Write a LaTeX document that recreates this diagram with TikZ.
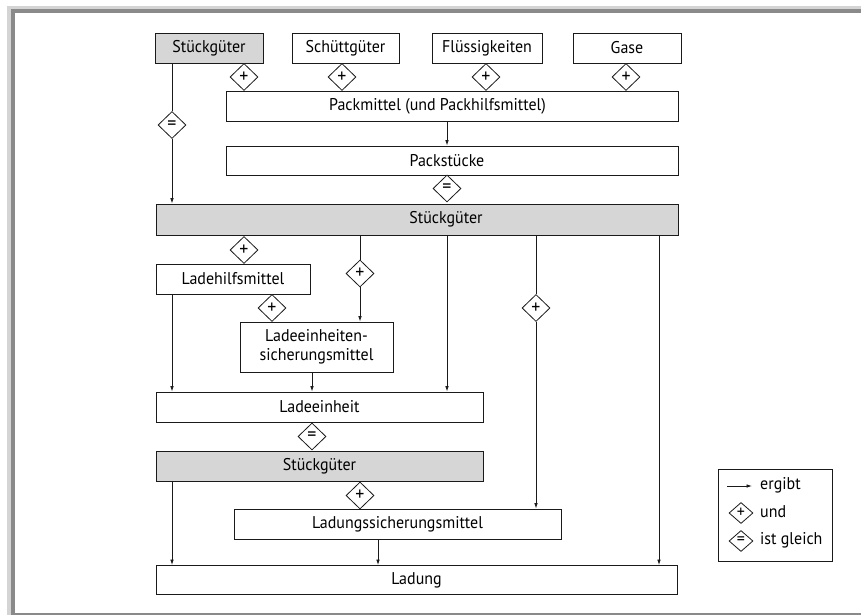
\documentclass[tikz,border=0pt]{standalone}
\usepackage{fontspec}
\setmainfont[FakeStretch=0.94]{PT Sans}
\usetikzlibrary{shapes.geometric,arrows.meta,calc}
\definecolor{boxgray}{HTML}{D6D6D6}
\definecolor{framedark}{HTML}{8A8A8A}
\definecolor{framelight}{HTML}{D4D4D4}
\definecolor{ink}{HTML}{1A1A1A}
\begin{document}
\begin{tikzpicture}[x=1pt,y=-1pt,
  box/.style={draw=ink, line width=0.9pt, inner sep=0pt, font=\fontsize{17}{19}\selectfont},
  gbox/.style={box, fill=boxgray},
  txt/.style={inner sep=0pt, font=\fontsize{17}{19}\selectfont},
  dia/.style={diamond, draw=ink, line width=0.8pt, fill=white, inner sep=0pt, minimum width=28pt, minimum height=27pt, font=\fontsize{19}{19}\selectfont},
  ldia/.style={dia, minimum width=24pt, minimum height=21pt, font=\fontsize{17}{17}\selectfont},
  con/.style={draw=ink, line width=0.8pt},
  arr/.style={con, -{Latex[length=5.5pt,width=3.6pt]}}]
\useasboundingbox (0,0) rectangle (861,615);
% frame
\fill[framelight] (7,6) rectangle (861,9.5);
\fill[framedark] (11,9.5) rectangle (861,12.7);
\fill[framelight] (7,6) rectangle (11,615);
\fill[framedark] (11,9.5) rectangle (15,615);
\fill[framedark] (11,613.3) rectangle (861,615);
% top row
\node[gbox, minimum width=108pt, minimum height=30pt] (s1) at (209,48) {Stückgüter};
\node[box, minimum width=107pt, minimum height=30pt] (sch) at (345.5,48) {Schüttgüter};
\node[box, minimum width=110pt, minimum height=30pt] (fl) at (487,48) {Flüssigkeiten};
\node[box, minimum width=108pt, minimum height=30pt] (ga) at (627,48) {Gase};
\node[box, minimum width=452pt, minimum height=30pt] (pm) at (452,106) {};
\node[txt] (pmt) at (437.5,106) {Packmittel (und Packhilfsmittel)};
\node[dia] (p1) at (244,77) {+};
\node[dia] (p2) at (342,77) {+};
\node[dia] (p3) at (486,77) {+};
\node[dia] (p4) at (626,77) {+};
\node[box, minimum width=452pt, minimum height=29pt] (ps) at (452,160.5) {};
\node[txt] (pst) at (447,160.5) {Packstücke};
\node[dia] (e1) at (447,188.5) {=};
\node[gbox, minimum width=522pt, minimum height=31pt] (s2) at (417,219.5) {};
\node[txt] (s2t) at (446,219.5) {Stückgüter};
\node[dia] (e0) at (172,125) {=};
% middle
\node[dia] (d1) at (244,250) {+};
\node[box, minimum width=154pt, minimum height=30pt] (lh) at (233,279) {Ladehilfsmittel};
\node[dia] (d2) at (360,273.5) {+};
\node[dia] (d3) at (272,308) {+};
\node[box, minimum width=153pt, minimum height=50pt, align=center] (ls) at (316.5,347) {Ladeeinheiten-\\sicherungsmittel};
\node[box, minimum width=327pt, minimum height=30pt] (le) at (319.5,407) {Ladeeinheit};
\node[dia] (e2) at (312,436.5) {=};
\node[gbox, minimum width=327pt, minimum height=30pt] (s3) at (319.5,466) {Stückgüter};
\node[dia] (d4) at (360,495.5) {+};
\node[box, minimum width=327pt, minimum height=30pt] (lsm) at (397.5,524) {Ladungssicherungsmittel};
\node[box, minimum width=521pt, minimum height=29pt] (la) at (416.5,580) {Ladung};
\node[dia] (d5) at (536,308) {+};
\coordinate (cR) at (659,0);
\coordinate (cL) at (378,0);
% connectors
\draw[con] (s1.south -| e0) -- (e0.north);
\draw[arr] (e0.south) -- (s2.north -| e0);
\draw[arr] (pm.south -| e1) -- (ps.north -| e1);
\draw[con] (s2.south -| d2) -- (d2.north);
\draw[arr] (d2.south) -- (ls.north -| d2);
\draw[arr] (lh.south -| e0) -- (le.north -| e0);
\draw[arr] (ls.south -| e2) -- (le.north -| e2);
\draw[arr] (s2.south -| e1) -- (le.north -| e1);
\draw[con] (s2.south -| d5) -- (d5.north);
\draw[arr] (d5.south) -- (lsm.north -| d5);
\draw[arr] (s2.south -| cR) -- (la.north -| cR);
\draw[arr] (s3.south -| e0) -- (la.north -| e0);
\draw[arr] (lsm.south -| cL) -- (la.north -| cL);
% legend
\node[draw=ink, line width=0.8pt, minimum width=114pt, minimum height=92pt, inner sep=0pt] (lg) at (775,515) {};
\coordinate (la1) at (727,486);
\coordinate (la2) at (752,486);
\draw[arr] (la1) -- (la2);
\node[txt, anchor=west] (lt1) at (760,485) {ergibt};
\node[ldia] (ld1) at (741,513) {+};
\node[txt, anchor=west] (lt2) at (760,512) {und};
\node[ldia] (ld2) at (741,541) {=};
\node[txt, anchor=west] (lt3) at (760,540) {ist gleich};
\end{tikzpicture}
\end{document}
